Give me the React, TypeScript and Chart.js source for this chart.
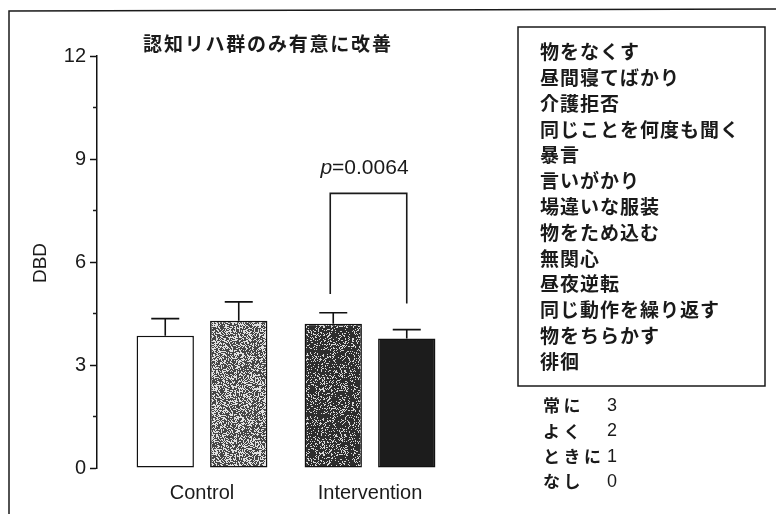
import React, { useEffect, useRef } from 'react';
import { Chart, registerables } from 'chart.js';

Chart.register(...registerables);

// ---- data ----
const categories = ['Control', 'Intervention'];
const seriesLabels = ['前', '後'];
const firstBarValues = [3.85, 4.2];
const secondBarValues = [4.29, 3.77];
const firstBarSem = [0.5, 0.32];
const secondBarSem = [0.55, 0.26];
const yMajorTicks = [0, 3, 6, 9, 12];
const yMinorStep = 1.5;
const yAxisTitle = 'DBD';
const chartTitle = '認知リハ群のみ有意に改善';
const pLabel = 'p';
const pValueText = '=0.0064';
const bracketTop = 8.0;
const bracketLegBottoms = [5.07, 4.79];
const behaviorItems = [
  '物をなくす',
  '昼間寝てばかり',
  '介護拒否',
  '同じことを何度も聞く',
  '暴言',
  '言いがかり',
  '場違いな服装',
  '物をため込む',
  '無関心',
  '昼夜逆転',
  '同じ動作を繰り返す',
  '物をちらかす',
  '徘徊',
];
const frequencyLabels = ['常に', 'よく', 'ときに', 'なし'];
const frequencyScores = ['3', '2', '1', '0'];

const JP = '"Noto Sans CJK JP", sans-serif';
const LAT = '"Liberation Sans", Arial, sans-serif';

function hash(x: number, y: number) {
  let n = Math.imul(x, 374761393) + Math.imul(y, 668265263);
  n = Math.imul(n ^ (n >>> 13), 1274126177);
  n = n ^ (n >>> 16);
  return (n >>> 0) / 4294967295;
}

function makeTexture(lightShare: number, light: number, dark: number) {
  const c = document.createElement('canvas');
  c.width = 64;
  c.height = 64;
  const ctx = c.getContext('2d')!;
  const img = ctx.createImageData(64, 64);
  for (let y = 0; y < 64; y++) {
    for (let x = 0; x < 64; x++) {
      const v = hash(x, y) < lightShare ? light : dark;
      const i = (y * 64 + x) * 4;
      img.data[i] = v;
      img.data[i + 1] = v;
      img.data[i + 2] = v;
      img.data[i + 3] = 255;
    }
  }
  ctx.putImageData(img, 0, 0);
  return ctx.createPattern(c, 'repeat')!;
}

function spacedText(ctx: CanvasRenderingContext2D, text: string, x: number, y: number, spacing: number) {
  let cx = x;
  for (const ch of Array.from(text)) {
    ctx.fillText(ch, cx, y);
    cx += ctx.measureText(ch).width + spacing;
  }
  return cx;
}

function spacedWidth(ctx: CanvasRenderingContext2D, text: string, spacing: number) {
  const chars = Array.from(text);
  let w = 0;
  for (const ch of chars) w += ctx.measureText(ch).width;
  return w + spacing * (chars.length - 1);
}

export default function App() {
  const ref = useRef<HTMLCanvasElement | null>(null);

  useEffect(() => {
    if (!ref.current) return;
    const lightTex = makeTexture(0.42, 225, 70);
    const darkTex = makeTexture(0.22, 215, 45);

    const errorBars = {
      id: 'errorBars',
      afterDatasetsDraw(chart: any) {
        const ctx = chart.ctx;
        const ys = chart.scales.y;
        const sems = [firstBarSem, secondBarSem];
        const vals = [firstBarValues, secondBarValues];
        ctx.save();
        ctx.strokeStyle = '#111';
        ctx.lineWidth = 1.6;
        chart.data.datasets.forEach((_: any, di: number) => {
          const meta = chart.getDatasetMeta(di);
          meta.data.forEach((el: any, i: number) => {
            const top = ys.getPixelForValue(vals[di][i] + sems[di][i]);
            ctx.beginPath();
            ctx.moveTo(el.x, el.y);
            ctx.lineTo(el.x, top);
            ctx.moveTo(el.x - 14, top);
            ctx.lineTo(el.x + 14, top);
            ctx.stroke();
          });
        });
        ctx.restore();
      },
    };

    const decor = {
      id: 'decor',
      afterDraw(chart: any) {
        const ctx = chart.ctx;
        const ys = chart.scales.y;
        const area = chart.chartArea;
        ctx.save();
        ctx.fillStyle = '#1a1a1a';
        ctx.strokeStyle = '#1a1a1a';

        // outer frame (top + left)
        ctx.lineWidth = 1.5;
        ctx.beginPath();
        ctx.moveTo(9, 514);
        ctx.lineTo(9, 11);
        ctx.lineTo(776, 9);
        ctx.stroke();

        // minor ticks
        ctx.lineWidth = 1.5;
        for (let v = 0; v <= 12; v += yMinorStep) {
          if (yMajorTicks.includes(v)) continue;
          const py = ys.getPixelForValue(v);
          ctx.beginPath();
          ctx.moveTo(area.left - 4, py);
          ctx.lineTo(area.left, py);
          ctx.stroke();
        }

        // title
        ctx.font = `bold 19px ${JP}`;
        ctx.textBaseline = 'middle';
        ctx.textAlign = 'left';
        const tw = spacedWidth(ctx, chartTitle, 1.8);
        spacedText(ctx, chartTitle, 267 - tw / 2, 44, 1.8);

        // y axis title
        ctx.save();
        ctx.translate(41, 263);
        ctx.rotate(-Math.PI / 2);
        ctx.textAlign = 'center';
        ctx.font = `19px ${LAT}`;
        ctx.fillText(yAxisTitle, 0, 0);
        ctx.restore();

        // bracket
        const m0 = chart.getDatasetMeta(0).data[1];
        const m1 = chart.getDatasetMeta(1).data[1];
        const xl = m0.x - 3;
        const xr = m1.x;
        const yTop = ys.getPixelForValue(bracketTop);
        ctx.lineWidth = 1.6;
        ctx.beginPath();
        ctx.moveTo(xl, ys.getPixelForValue(bracketLegBottoms[0]));
        ctx.lineTo(xl, yTop);
        ctx.lineTo(xr, yTop);
        ctx.lineTo(xr, ys.getPixelForValue(bracketLegBottoms[1]));
        ctx.stroke();

        // p value
        ctx.textAlign = 'left';
        ctx.font = `italic 21px ${LAT}`;
        const pw = ctx.measureText(pLabel).width;
        ctx.font = `21px ${LAT}`;
        const rw = ctx.measureText(pValueText).width;
        const cx = (xl + xr) / 2 - 4;
        const px = cx - (pw + rw) / 2;
        const py = yTop - 25;
        ctx.font = `italic 21px ${LAT}`;
        ctx.fillText(pLabel, px, py);
        ctx.font = `21px ${LAT}`;
        ctx.fillText(pValueText, px + pw, py);

        // right box
        ctx.lineWidth = 1.5;
        ctx.strokeRect(518, 27, 247, 359);
        ctx.font = `bold 19px ${JP}`;
        behaviorItems.forEach((t, i) => {
          spacedText(ctx, t, 540, 52 + i * 25.8, 1);
        });

        // frequency legend
        frequencyLabels.forEach((t, i) => {
          const y = 406 + i * 25.3;
          ctx.font = `bold 17px ${JP}`;
          spacedText(ctx, t, 543, y, 3.5);
          ctx.font = `18px ${LAT}`;
          ctx.fillText(frequencyScores[i], 607, y);
        });

        ctx.restore();
      },
    };

    const chart = new Chart(ref.current, {
      type: 'bar',
      data: {
        datasets: [
          {
            label: seriesLabels[0],
            data: firstBarValues.map((v, i) => ({ x: i, y: v })),
            backgroundColor: ['#ffffff', darkTex],
            borderColor: '#111',
            borderWidth: 1.5,
            borderSkipped: false,
          },
          {
            label: seriesLabels[1],
            data: secondBarValues.map((v, i) => ({ x: i, y: v })),
            backgroundColor: [lightTex, '#1c1c1c'],
            borderColor: '#111',
            borderWidth: 1.5,
            borderSkipped: false,
          },
        ],
      } as any,
      options: {
        responsive: false,
        animation: false,
        categoryPercentage: 0.875,
        barPercentage: 0.78,
        layout: { padding: { top: 56, right: 301, bottom: 0, left: 0 } },
        plugins: { legend: { display: false }, tooltip: { enabled: false }, title: { display: false } },
        scales: {
          x: {
            type: 'linear',
            min: -0.625,
            max: 1.625,
            offset: false,
            bounds: 'data',
            afterBuildTicks: (s: any) => {
              s.ticks = categories.map((_, i) => ({ value: i }));
            },
            afterFit: (s: any) => {
              s.height = 46;
            },
            grid: { display: false, drawTicks: false, offset: false },
            border: { display: false },
            ticks: {
              padding: 13,
              color: '#1a1a1a',
              font: { family: LAT, size: 20 },
              callback: (v: any) => categories[v] ?? '',
              autoSkip: false,
              maxRotation: 0,
            },
          },
          y: {
            min: 0,
            max: 12,
            afterFit: (s: any) => {
              s.width = 97;
            },
            grid: {
              drawOnChartArea: false,
              drawTicks: true,
              tickLength: 7,
              tickWidth: 1.5,
              tickColor: (c: any) => (yMajorTicks.includes(c.tick?.value) ? '#111' : 'rgba(0,0,0,0)'),
            },
            border: { display: true, color: '#111', width: 1.5 },
            ticks: {
              stepSize: yMinorStep,
              autoSkip: false,
              padding: 4,
              color: '#1a1a1a',
              font: { family: LAT, size: 20 },
              callback: (v: any) => (yMajorTicks.includes(v) ? String(v) : ''),
            },
          },
        },
      } as any,
      plugins: [errorBars, decor],
    });
    return () => chart.destroy();
  }, []);

  return (
    <div style={{ position: 'fixed', left: 0, top: 0, width: 776, height: 514, background: '#fff' }}>
      <canvas ref={ref} width={776} height={514} />
    </div>
  );
}
